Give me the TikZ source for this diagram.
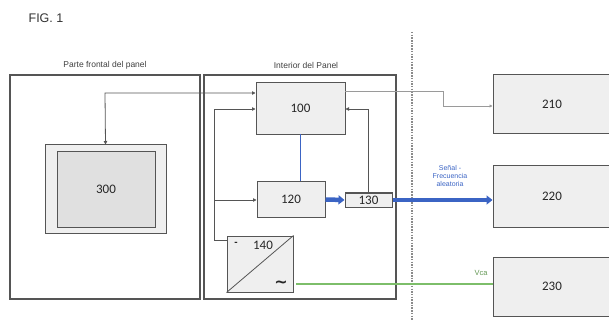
\documentclass[tikz,border=0pt]{standalone}
\usepackage{fontspec}
\setmainfont{Liberation Sans}
\newfontfamily\numfont{Carlito}
\newfontfamily\symfont{DejaVu Sans}
\usetikzlibrary{arrows.meta,calc}
\definecolor{boxfill}{HTML}{EFEFEF}
\definecolor{innerfill}{HTML}{E0E0E0}
\definecolor{edge}{HTML}{555555}
\definecolor{sigblue}{HTML}{3B64C4}
\definecolor{vgreen}{HTML}{7DBE6A}
\definecolor{lightline}{HTML}{9A9A9A}
\tikzset{
  blk/.style={draw=edge, fill=boxfill, line width=1pt, inner sep=0pt, font=\numfont\fontsize{13}{15}\selectfont, text=black!85},
  panel/.style={draw=edge, line width=1.1pt},
  conn/.style={draw=edge, line width=0.8pt},
  tip/.style={-{Triangle[length=3.5pt,width=3.5pt]}},
  bigarrow/.style={draw=sigblue, line width=4.5pt, -{Triangle[length=6pt,width=9pt]}},
  lbl/.style={font=\fontsize{8.5}{10}\selectfont, text=black!75, inner sep=0pt},
}
\begin{document}
\begin{tikzpicture}[x=1pt,y=-1pt]
\useasboundingbox (0,0) rectangle (609,320);
\clip (0,0) rectangle (609,320);
% title
\node[font=\fontsize{12.5}{14}\selectfont, text=black!80] (fig) at (46,18) {FIG. 1};
% dashed divider
\coordinate (dtop) at (412,32);
\coordinate (dbot) at (412,320);
\draw[lightline!90!black, line width=1.1pt, dash pattern=on 1.5pt off 1.2pt] (dtop) -- (dbot);
% panels
\draw[panel] (10,75) rectangle (200,299);
\draw[panel] (204,75) rectangle (396,299);
\node[lbl] (lfront) at (105,65) {Parte frontal del panel};
\node[lbl] (linter) at (306,65) {Interior del Panel};
% blocks
\node[blk, minimum width=89pt, minimum height=52pt] (n100) at (300.5,108.5) {100};
\node[blk, minimum width=68pt, minimum height=35pt] (n120) at (291,199.5) {120};
\node[blk, minimum width=47pt, minimum height=14pt] (n130) at (368.5,200) {130};
\node[blk, minimum width=66pt, minimum height=56pt] (n140) at (260,264) {};
\draw[edge, line width=0.8pt] (n140.south west) -- (n140.north east);
\node[font=\numfont\fontsize{13}{15}\selectfont, text=black!85] (t140) at (263,245) {140};
\node[font=\bfseries\fontsize{10}{12}\selectfont, text=black!85] (tminus) at (236,244) {-};
\node[font=\symfont\bfseries\fontsize{16}{16}\selectfont, text=black!85, inner sep=0pt] (ttilde) at (281,284) {∼};
\node[blk, minimum width=121pt, minimum height=88pt] (n300o) at (105.5,189) {};
\node[blk, fill=innerfill, minimum width=98pt, minimum height=75pt] (n300) at (106,189.5) {300};
\node[blk, minimum width=118pt, minimum height=59pt] (n210) at (552,104.5) {210};
\node[blk, minimum width=118pt, minimum height=61pt] (n220) at (552,196.5) {220};
\node[blk, minimum width=118pt, minimum height=59pt] (n230) at (552,286.5) {230};
% connector 300 <-> 100
\coordinate (j1) at (105,93);
\draw[conn, {Triangle[length=3.5pt,width=3.5pt]}-{Triangle[length=3.5pt,width=3.5pt]}] (n300o.north) -- (j1) -- (n100.west |- j1);
% 140 -> 100, 120
\coordinate (b0) at (227,240);
\coordinate (b1) at (214,240);
\coordinate (b2) at (214,109);
\coordinate (b3) at (214,200);
\draw[conn, tip] (b0) -- (b1) -- (b2) -- (n100.west |- b2);
\draw[conn, tip] (b3) -- (n120.west |- b3);
% 130 -> 100
\draw[conn, tip] (n130.north) |- (n100.east |- b2);
% 100 -- 120 blue
\coordinate (u1) at (300,134);
\draw[sigblue, line width=1pt] (u1) -- (u1 |- n120.north);
% thick arrows
\draw[bigarrow] (n120.east) -- (n130.west);
\draw[bigarrow] (n130.east) -- (n220.west |- n130.east);
\node[font=\fontsize{7}{8}\selectfont, text=sigblue, align=center, inner sep=0pt] (sig) at (450,176) {Señal -\\Frecuencia\\aleatoria};
% 100 -> 210
\coordinate (g1) at (345,91);
\coordinate (g2) at (443,91);
\coordinate (g3) at (443,106);
\draw[lightline, line width=0.8pt, -{Triangle[length=3pt,width=3pt]}] (g1) -- (g2) -- (g3) -- (n210.west |- g3);
% 140 -> 230 green
\coordinate (v1) at (296,284);
\draw[vgreen, line width=1.2pt] (v1) -- (n230.west |- v1);
\node[font=\fontsize{7.5}{9}\selectfont, text=vgreen!80!black, inner sep=0pt] (vca) at (481,273) {Vca};
\end{tikzpicture}
\end{document}
